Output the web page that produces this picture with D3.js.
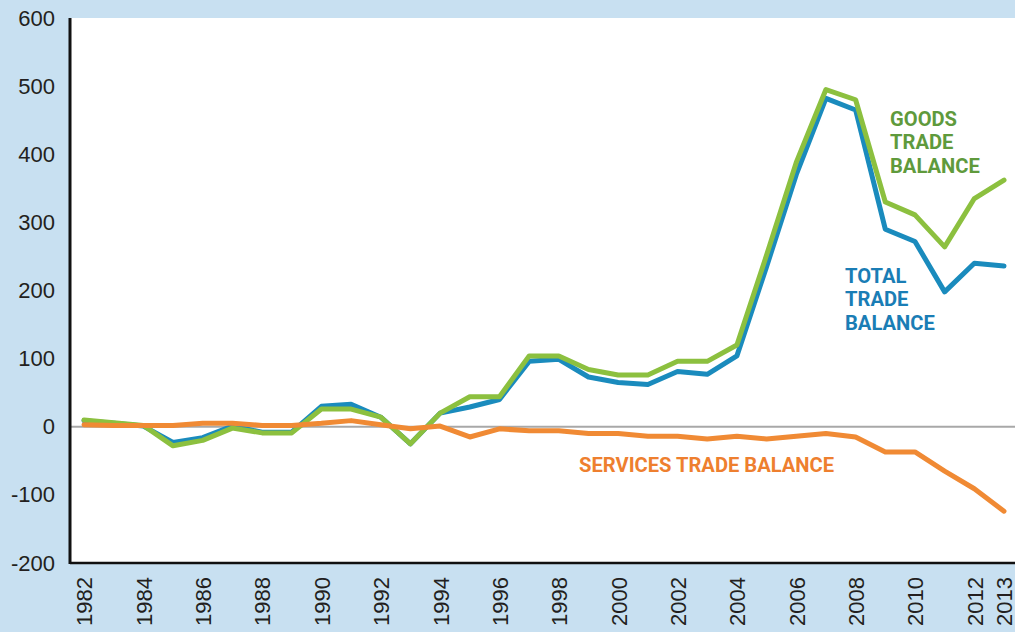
<!DOCTYPE html>
<html>
<head>
<meta charset="utf-8">
<script src="https://cdn.jsdelivr.net/npm/d3@7"></script>
<style>
    html, body { margin: 0; padding: 0; background: #c8e0f1; }
    svg { display: block; }
</style>
</head>
<body>
<div id="chart"></div>
<script>
// Trade balance lines: goods, total, services

const years = d3.range(1982, 2014);

const totalBalance = [9, 5, 1, -23, -16, 1, -8, -8, 30, 33, 14, -25, 20, 29, 40,
    96, 99, 73, 65, 62, 81, 77, 104, 235, 370, 482, 465, 290, 272, 198, 240, 236];

const goodsBalance = [10, 6, 2, -28, -20, -2, -9, -9, 26, 26, 14, -25, 20, 44, 44,
    104, 104, 84, 76, 76, 96, 96, 120, 252, 388, 495, 480, 330, 311, 264, 335, 362];

const servicesBalance = [3, 2, 2, 2, 5, 5, 2, 2, 5, 9, 3, -3, 1, -15, -3,
    -6, -6, -10, -10, -14, -14, -18, -14, -18, -14, -10, -15, -37, -37, -65, -91, -124];

const yTicks = [-200, -100, 0, 100, 200, 300, 400, 500, 600];
const xTicks = [1982, 1984, 1986, 1988, 1990, 1992, 1994, 1996, 1998, 2000,
    2002, 2004, 2006, 2008, 2010, 2012, 2013];

const W = 1015, H = 632;
const plot = {left: 70, top: 18, right: 1015, bottom: 563};

const svg = d3.select('#chart')
    .append('svg')
    .attr('width', W)
    .attr('height', H);

const x = d3.scaleLinear().domain([1982, 2013]).range([84, 1004]);
const y = d3.scaleLinear().domain([-200, 600]).range([plot.bottom, plot.top]);

// white plot area
svg.append('rect')
    .attr('x', plot.left)
    .attr('y', plot.top)
    .attr('width', plot.right - plot.left)
    .attr('height', plot.bottom - plot.top)
    .attr('fill', '#ffffff');

// zero line
svg.append('line')
    .attr('x1', plot.left)
    .attr('x2', plot.right)
    .attr('y1', y(0))
    .attr('y2', y(0))
    .attr('stroke', '#a8a8a8')
    .attr('stroke-width', 2);

// y axis labels (plain hyphen for negatives)
const yAxis = svg.append('g')
    .attr('transform', `translate(${plot.left},0)`)
    .call(d3.axisLeft(y).tickValues(yTicks).tickSize(0).tickPadding(15).tickFormat(d => String(d)));
yAxis.select('.domain').remove();
yAxis.selectAll('text')
    .style('font-family', '"Liberation Sans", Arial, sans-serif')
    .style('font-size', '22px')
    .attr('fill', '#231f20');

// x axis labels (rotated)
const xAxis = svg.append('g')
    .attr('transform', `translate(0,${plot.bottom})`)
    .call(d3.axisBottom(x).tickValues(xTicks).tickSize(0).tickFormat(d => String(d)));
xAxis.select('.domain').remove();
xAxis.selectAll('text')
    .attr('y', 0)
    .attr('x', -14)
    .attr('dy', '0.36em')
    .attr('transform', 'rotate(-90)')
    .style('text-anchor', 'end')
    .style('font-family', '"Liberation Sans", Arial, sans-serif')
    .style('font-size', '22px')
    .attr('fill', '#231f20');

// axis lines
svg.append('line')
    .attr('x1', plot.left).attr('x2', plot.right)
    .attr('y1', plot.bottom).attr('y2', plot.bottom)
    .attr('stroke', '#111').attr('stroke-width', 2.5);
svg.append('line')
    .attr('x1', plot.left).attr('x2', plot.left)
    .attr('y1', plot.top).attr('y2', plot.bottom + 1)
    .attr('stroke', '#111').attr('stroke-width', 3);

// series
const series = [
    {name: 'total', values: totalBalance, color: '#1a8bbd'},
    {name: 'goods', values: goodsBalance, color: '#8cc03f'},
    {name: 'services', values: servicesBalance, color: '#f08a34'}
];

const line = d3.line()
    .x((d, i) => x(years[i]))
    .y(d => y(d));

series.forEach(s => {
    svg.append('path')
        .datum(s.values)
        .attr('class', `line-${s.name}`)
        .attr('fill', 'none')
        .attr('stroke', s.color)
        .attr('stroke-width', 5)
        .attr('stroke-linejoin', 'round')
        .attr('stroke-linecap', 'round')
        .attr('d', line);
});

// labels
const labels = [
    {lines: ['GOODS', 'TRADE', 'BALANCE'], x: 890, y: 126, color: '#5f9a3c'},
    {lines: ['TOTAL', 'TRADE', 'BALANCE'], x: 845, y: 283, color: '#1a7db5'},
    {lines: ['SERVICES TRADE BALANCE'], x: 579, y: 472, color: '#ee7f2f'}
];

labels.forEach(l => {
    const t = svg.append('text')
        .attr('x', l.x)
        .attr('y', l.y)
        .attr('fill', l.color)
        .style('font-family', 'Roboto, "Liberation Sans", sans-serif')
        .style('font-weight', 'bold')
        .style('font-size', '21px')
        .attr('transform', `translate(${l.x},0) scale(0.96,1) translate(${-l.x},0)`);
    l.lines.forEach((s, i) => {
        t.append('tspan')
            .attr('x', l.x)
            .attr('dy', i === 0 ? 0 : 23.5)
            .text(s);
    });
});
</script>
</body>
</html>
